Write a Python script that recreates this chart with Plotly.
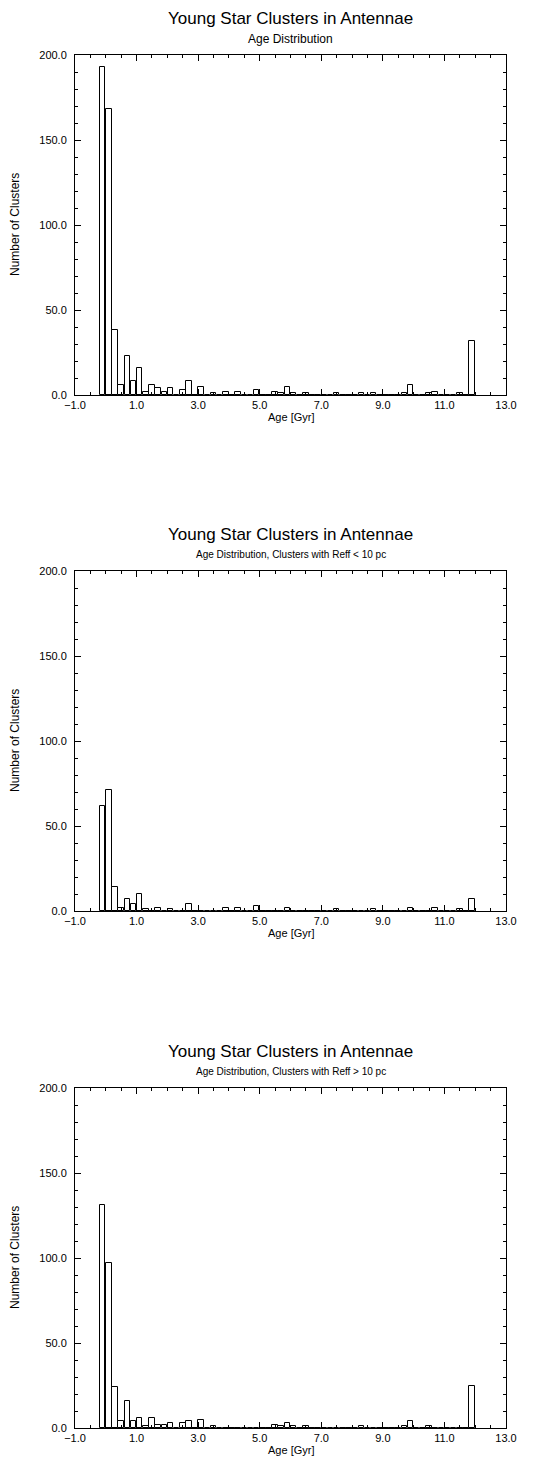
import plotly.graph_objects as go

# ---- data -------------------------------------------------------------
age_bins = [-0.1, 0.1, 0.3, 0.5, 0.7, 0.9, 1.1, 1.3, 1.5, 1.7, 1.9,
            2.1, 2.3, 2.5, 2.7, 2.9, 3.1, 3.3, 3.5, 3.7, 3.9,
            4.1, 4.3, 4.5, 4.7, 4.9, 5.1, 5.3, 5.5, 5.7, 5.9,
            6.1, 6.3, 6.5, 6.7, 6.9, 7.1, 7.3, 7.5, 7.7, 7.9,
            8.1, 8.3, 8.5, 8.7, 8.9, 9.1, 9.3, 9.5, 9.7, 9.9,
            10.1, 10.3, 10.5, 10.7, 10.9, 11.1, 11.3, 11.5, 11.7, 11.9]

counts_all = [193, 168, 38, 6, 23, 8, 16, 2, 6, 4, 2,
              4, 0, 3, 8, 0, 5, 0, 1, 0, 2,
              0, 2, 0, 0, 3, 0, 0, 2, 1, 5,
              1, 0, 1, 0, 0, 0, 0, 1, 0, 0,
              0, 1, 0, 1, 0, 0, 0, 0, 1, 6,
              0, 0, 1, 2, 0, 0, 0, 1, 0, 32]

counts_small = [62, 71, 14, 2, 7, 4, 10, 1, 0, 2, 0,
                1, 0, 0, 4, 0, 0, 0, 0, 0, 2,
                0, 2, 0, 0, 3, 0, 0, 0, 0, 2,
                0, 0, 0, 0, 0, 0, 0, 1, 0, 0,
                0, 0, 0, 1, 0, 0, 0, 0, 0, 2,
                0, 0, 0, 2, 0, 0, 0, 1, 0, 7]

counts_large = [131, 97, 24, 4, 16, 4, 6, 1, 6, 2, 2,
                3, 0, 3, 4, 0, 5, 0, 1, 0, 0,
                0, 0, 0, 0, 0, 0, 0, 2, 1, 3,
                1, 0, 1, 0, 0, 0, 0, 0, 0, 0,
                0, 1, 0, 0, 0, 0, 0, 0, 1, 4,
                0, 0, 1, 0, 0, 0, 0, 0, 0, 25]

main_title = "Young Star Clusters in Antennae"
subtitles = ["Age Distribution",
             "Age Distribution, Clusters with Reff < 10 pc",
             "Age Distribution, Clusters with Reff > 10 pc"]
subtitle_sizes = [12, 10, 10]
x_title = "Age [Gyr]"
y_title = "Number of Clusters"
x_tickvals = [-1, 1, 3, 5, 7, 9, 11, 13]
y_tickvals = [0, 50, 100, 150, 200]

# ---- layout geometry (pixels, relative to the figure; page body adds 8px) --
W, H = 532, 1454
X0, X1 = 67, 498
panel_tops = [47, 563, 1080]
PANEL_H = 340
FONT = "Liberation Sans, Arial, Helvetica, sans-serif"

def px_y(y):
    return 1 - y / H

fig = go.Figure()
series = [counts_all, counts_small, counts_large]
annotations = []
for i, (vals, sub) in enumerate(zip(series, subtitles)):
    n = "" if i == 0 else str(i + 1)
    top = panel_tops[i]
    bot = top + PANEL_H
    fig.add_trace(go.Bar(
        x=age_bins, y=vals, width=0.18,
        marker=dict(color="white", line=dict(color="black", width=1)),
        xaxis="x" + n, yaxis="y" + n, showlegend=False,
    ))
    common = dict(showline=True, linecolor="black", linewidth=1, mirror="allticks",
                  ticks="inside", tickcolor="black", tickwidth=1,
                  showgrid=False, zeroline=False, automargin=False,
                  tickfont=dict(family=FONT, size=11, color="black"))
    fig.layout["xaxis" + n] = dict(
        common, domain=[X0 / W, X1 / W], range=[-1, 13],
        anchor="y" + n, tickmode="array", tickvals=x_tickvals,
        tickformat=".1f", ticklen=6, ticklabelstandoff=0,
        minor=dict(ticks="inside", dtick=0.5, tick0=-1, ticklen=3,
                   tickcolor="black", showgrid=False),
    )
    fig.layout["yaxis" + n] = dict(
        common, domain=[px_y(bot), px_y(top)], range=[0, 200],
        anchor="x" + n, tickmode="array", tickvals=y_tickvals,
        tickformat=".1f", ticklen=6, ticklabelstandoff=5,
        minor=dict(ticks="inside", dtick=10, tick0=0, ticklen=3,
                   tickcolor="black", showgrid=False),
    )
    cx = (X0 + X1) / 2 / W
    annotations += [
        dict(text=main_title, x=cx, y=px_y(top - 37), xref="paper", yref="paper",
             xanchor="center", yanchor="middle", showarrow=False,
             font=dict(family=FONT, size=17, color="black")),
        dict(text=sub, x=cx, y=px_y(top - 16.5), xref="paper", yref="paper",
             xanchor="center", yanchor="middle", showarrow=False,
             font=dict(family=FONT, size=subtitle_sizes[i], color="black")),
        dict(text=x_title, x=cx, y=px_y(bot + 22), xref="paper", yref="paper",
             xanchor="center", yanchor="middle", showarrow=False,
             font=dict(family=FONT, size=11, color="black")),
        dict(text=y_title, x=7 / W, y=px_y(top + PANEL_H / 2), xref="paper",
             yref="paper", xanchor="center", yanchor="middle", textangle=-90,
             showarrow=False, font=dict(family=FONT, size=12, color="black")),
    ]

fig.update_layout(
    width=W, height=H, margin=dict(l=0, r=0, t=0, b=0, autoexpand=False),
    paper_bgcolor="white", plot_bgcolor="white",
    annotations=annotations, bargap=0,
)
fig.write_html("out.html")
